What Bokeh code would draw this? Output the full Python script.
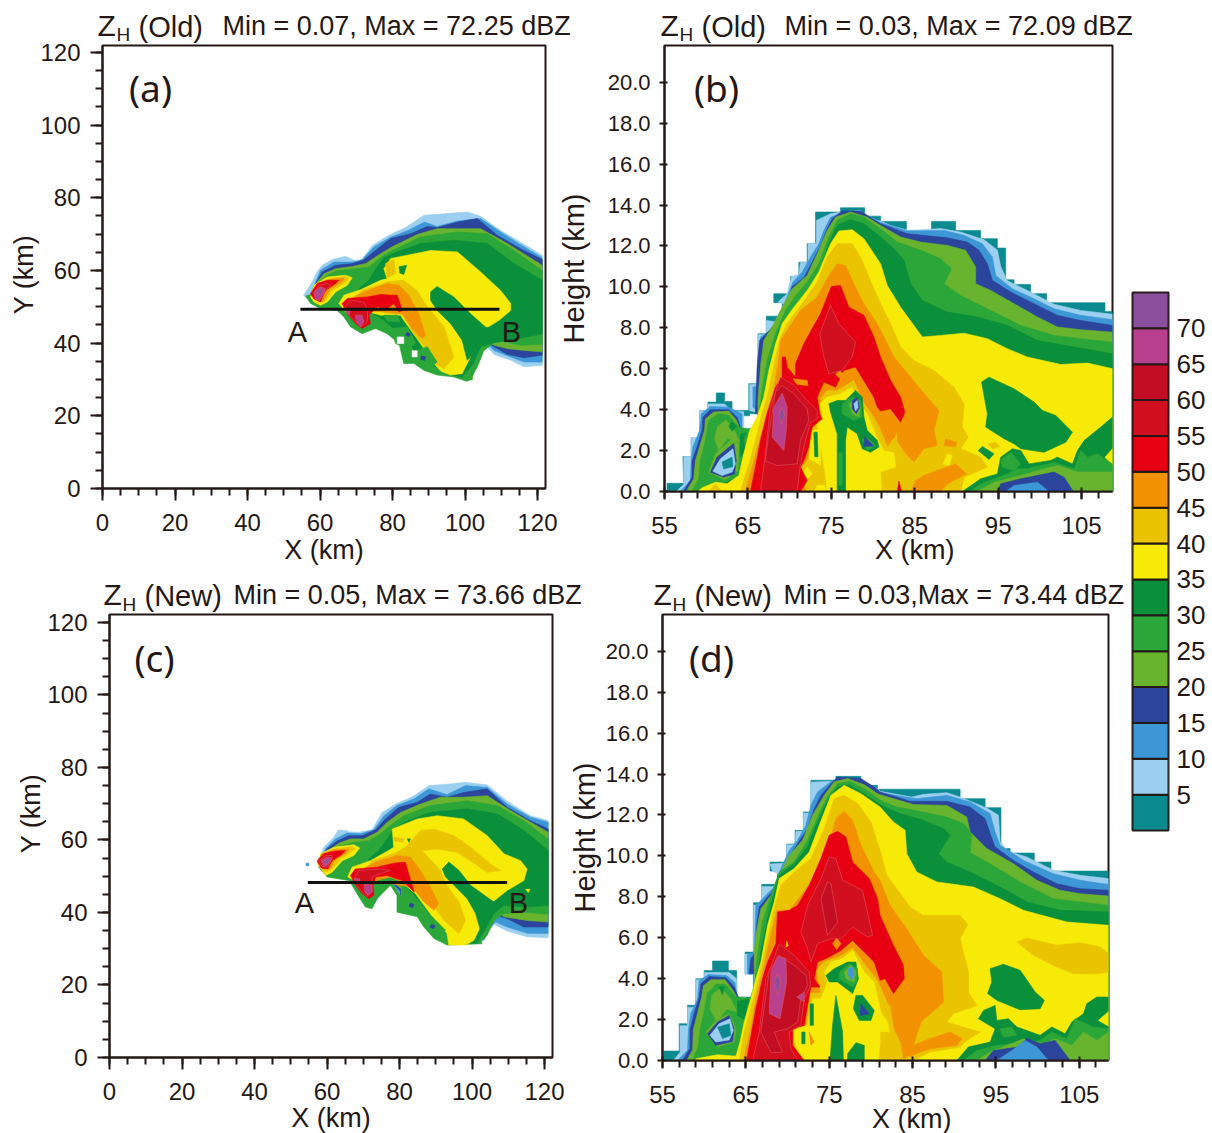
from bokeh.embed import file_html
from bokeh.resources import INLINE
from bokeh.plotting import figure
from bokeh.layouts import row, column
from bokeh.models import Range1d, FixedTicker, Label, Spacer, NumeralTickFormatter

# dBZ class colours
LEVELS = [0, 5, 10, 15, 20, 25, 30, 35, 40, 45, 50, 55, 60, 65, 70]
COLOR = {-1: "#FFFFFF", 0: "#0B8A8F", 5: "#9BCFEF", 10: "#3D97D6", 15: "#2B459C", 20: "#69B42F",
         25: "#2BA639", 30: "#0A8F3A", 35: "#F6EA06", 40: "#EAC400", 45: "#F39200", 50: "#E60012",
         55: "#D20F1E", 60: "#C30D23", 65: "#B9408F", 70: "#8B4F9E"}
CBAR_TICKS = [5, 10, 15, 20, 25, 30, 35, 40, 45, 50, 55, 60, 65, 70]

# ---------- panel (b): contour outlines, (X km, Height km) ----------
bc_00 = [(55.3,0),(55.3,0.4),(57.3,0.4),(57.2,1.71),(58.2,1.71),(58.2,2.62),(59.2,2.62),(59.2,3.96),(60.2,3.96),(60.2,4.37),(61.2,4.37),(61.2,4.82),(62.2,4.82),(62.2,4.4),(63.1,4.4),(63.1,3.96),(65.2,3.96),(65.2,3.7),(64.2,3.7),(64.2,3.07),(66.1,3.07),(66.1,0)]
bc_05 = [(56.4,0),(57.3,0.35),(57.3,1.71),(58.2,1.71),(58.2,2.62),(59.2,2.62),(59.2,3.96),(60.2,3.96),(60.2,4.28),(62.2,4.28),(63,3.96),(64.5,3.9),(64.5,3.1),(66,3.1),(66,0)]
bc_10 = [(56.9,0),(58.1,0.54),(58.2,1.5),(58.4,2.17),(59.2,2.98),(59.4,3.8),(60.5,4.16),(62.7,4.12),(64.3,3.8),(64.3,3.05),(66,3.05),(66,0)]
bc_15 = [(57.3,0),(58.3,0.7),(58.3,1.5),(58.9,2.17),(59.5,2.98),(59.6,3.63),(60.5,4.0),(62.7,4.0),(63.7,3.63),(64.2,3.0),(66,3.0),(66,0)]
bc_20 = [(57.6,0),(58.5,0.62),(58.7,1.5),(59.2,2.17),(59.8,3.0),(59.9,3.55),(60.9,3.88),(62.7,3.93),(63.6,3.5),(64.1,3.0),(66,3.0),(66,0)]
bc_25 = [(58.3,0),(59.1,0.62),(59.3,1.5),(59.9,2.5),(60.3,3.47),(61.5,3.8),(62.7,3.72),(63.9,3.15),(65.5,3.0),(66,0)]
bc_20i = [(61.4,3.2),(62.4,3.5),(63.5,2.9),(64,2.4),(62.6,2.6),(61.5,2.0),(61,2.6)]
bc_30a = [(62.7,3.2),(63.1,3.4),(63.6,3.2),(63.1,2.95)]
bc_30b = [(64.1,2.8),(65,2.9),(64.7,2.0),(64.1,1.7)]
bc_h20 = [(60.3,0.94),(61.1,1.84),(63.1,2.57),(63.9,2.33),(63.8,1.03),(62.3,0.57)]
bc_h15 = [(60.5,0.94),(61.3,1.68),(63.3,2.36),(63.6,1.52),(63.4,0.86),(62.1,0.7)]
bc_h05 = [(60.8,0.99),(61.7,1.6),(63.2,2.09),(63.5,1.35),(63.1,0.95),(61.9,0.78)]
bc_h00 = [(61.9,1.44),(63.1,1.68),(63.2,1.22),(62.1,1.1)]

b_00 = [(65.5,0),(66.2,3.1),(66.2,3.8),(65.1,3.8),(65.1,5.27),(66.2,5.27),(66.2,7.71),(67.2,7.71),(67.2,8.57),(69.1,8.57),(69.1,9.23),(68.1,9.23),(68.1,9.67),(70.1,9.67),(70.1,10.51),(71.1,10.51),(71.1,11.21),(72.1,11.21),(72.1,12.11),(73.1,12.11),(73.1,13.66),(76.1,13.66),(76.1,13.87),(79.0,13.87),(79.0,13.46),(80.9,13.46),(80.9,13.2),(84.0,13.2),(84.0,12.76),(87.0,12.76),(87.0,13.2),(89.9,13.2),(89.9,12.76),(92.9,12.76),(92.9,12.36),(94.9,12.36),(94.9,11.9),(95.9,11.9),(95.9,10.35),(96.9,10.35),(96.9,10.12),(98.9,10.12),(98.9,9.67),(100.8,9.67),(100.8,9.23),(107.8,9.23),(107.8,8.8),(108.7,8.8),(108.7,0)]
b_05 = [(66.3,0),(66.3,3.85),(65.2,3.95),(65.2,5.23),(66.2,5.23),(66.2,7.67),(67.2,7.67),(67.2,8.36),(68.3,8.3),(69.3,9.18),(68.6,9.26),(69.7,9.67),(70.2,10.51),(71.1,10.61),(71.3,11.21),(72.2,11.21),(72.2,12.11),(73.2,12.11),(73.2,13.25),(74.9,13.58),(76.1,13.66),(78.5,13.74),(79,13.5),(80.5,13.25),(80.9,13.22),(82.1,13.0),(84.3,12.76),(88.1,12.85),(90.5,12.68),(93.3,12.31),(94.9,11.8),(95.3,11.0),(96.1,10.3),(98.5,9.83),(101.7,9.15),(104.9,8.85),(108.7,8.66),(108.7,0)]
b_10 = [(66.4,0),(66.4,3.85),(65.6,4.12),(65.6,5.1),(66.3,5.18),(66.5,7.55),(67.4,7.79),(68.5,8.28),(69.6,9.42),(70.4,10.24),(71.5,10.73),(72.5,11.46),(73.5,12.11),(74.1,12.76),(74.9,13.4),(76.5,13.66),(78.5,13.66),(80.1,13.33),(80.9,13.15),(84.1,12.73),(88.5,12.76),(90.9,12.52),(93.1,12.11),(94.3,11.46),(94.7,10.56),(96.7,9.91),(98.9,9.5),(101.7,8.93),(104.9,8.61),(108.7,8.4),(108.7,0)]
b_15 = [(66.5,0),(66.5,3.8),(65.9,3.8),(66.1,6.08),(66.4,7.38),(67.5,7.84),(68.6,8.33),(69.9,9.42),(70.3,10.02),(71.7,10.45),(72.7,11.21),(73.7,12.03),(74.5,12.84),(75.1,13.33),(76.3,13.71),(78.5,13.71),(80.1,13.28),(80.9,13.09),(84.1,12.6),(88.9,12.4),(91.3,12.19),(92.7,11.79),(93.7,11.13),(94.3,10.32),(96.5,9.75),(99.3,9.18),(102.1,8.61),(104.9,8.36),(108.7,8.12),(108.7,0)]
b_20 = [(66.6,0),(66.6,3.1),(66.2,3.8),(66.2,4.45),(66.5,6.08),(66.9,7.38),(68.1,8.2),(69.1,9.01),(70.3,9.91),(72.1,10.56),(73.3,11.62),(74.5,12.76),(75.5,13.41),(77.3,13.66),(79.3,13.41),(80.9,13.0),(83.3,12.44),(85.7,12.19),(88.9,12.03),(91.1,11.79),(92.3,10.97),(92.3,10.16),(94.1,9.83),(96.9,9.18),(99.7,8.53),(102.1,8.04),(104.9,7.91),(108.7,7.79),(108.7,0)]
b_25 = [(66.7,0),(64.5,2.5),(65,3.05),(66.0,3.1),(66.3,3.8),(66.7,4.94),(67.3,6.41),(68.3,7.71),(69.5,8.85),(70.9,9.67),(72.1,10.24),(73.5,11.13),(74.7,12.44),(75.7,13.25),(77.3,13.58),(78.9,13.41),(80.9,12.84),(82.9,12.19),(85.7,11.79),(88.1,11.38),(89.4,10.89),(88.5,10.16),(90.5,9.58),(94.1,8.85),(97.7,8.12),(101.7,7.63),(104.9,7.47),(108.7,7.3),(108.7,0)]
b_30 = [(58.9,0),(59.3,0.1),(62.1,0.4),(63.8,0.7),(64.5,1.5),(65.3,2.82),(66.6,3.8),(67.1,4.94),(67.7,6.41),(68.7,7.87),(69.9,8.61),(71.1,9.34),(72.3,9.91),(73.7,10.81),(74.7,12.11),(75.7,13.01),(77.3,13.28),(78.9,13.09),(80.9,12.44),(82.5,11.87),(83.7,11.3),(84.5,10.16),(85.9,9.34),(88.9,8.77),(92.5,8.53),(96.1,8.12),(99.7,7.38),(104.1,7.06),(108.7,6.73),(108.7,0)]
b_35 = [(59.0,0),(59.5,0.18),(61.1,0.45),(62.5,0.38),(63.9,0.78),(64.5,1.84),(65.2,2.98),(66.1,3.64),(66.9,4.61),(67.5,5.92),(68.3,7.22),(69.1,8.2),(70.5,9.01),(72.1,9.83),(73.5,10.73),(74.9,12.11),(75.9,12.73),(77.5,12.8),(78.9,12.36),(80.1,11.62),(80.9,11.13),(81.7,10.07),(83.3,9.01),(85.9,7.55),(88.1,7.63),(90.9,7.74),(93.7,7.47),(96.1,6.98),(98.5,6.57),(102.5,6.21),(105.7,6.28),(108.7,6.0),(108.7,0)]
b_40 = [(64.1,0),(65,1.2),(65.9,2.5),(66.7,3.8),(67.5,4.94),(68.3,6.57),(68.9,7.55),(69.7,8.2),(71.5,9.18),(73.3,10.24),(74.5,11.46),(75.7,12.11),(77.5,12.11),(78.5,11.46),(79.5,10.49),(80.9,9.18),(82.1,8.2),(83.3,7.06),(84.9,6.4),(87.3,5.92),(89.7,5.1),(90.9,4.29),(90.7,3.15),(91.4,2.66),(90.5,2.09),(92.9,1.68),(93.7,1.19),(90.9,0.7),(90.5,0)]
b_40s = [(60.3,0),(61.1,0.35),(61.9,0)]
b_45 = [(64.7,0),(65.5,1.2),(66.4,2.5),(67.2,3.8),(68.1,4.94),(68.7,6.57),(68.9,7.38),(71.3,8.85),(73.3,9.5),(74.7,10.56),(75.7,11.13),(76.7,11.05),(77.7,10.16),(78.9,9.18),(80.5,8.2),(80.9,7.87),(82.5,6.57),(84.5,5.59),(86.5,4.61),(87.9,3.96),(87.3,2.98),(87.7,2.25),(86.1,2.09),(84.9,1.44),(83.9,1.84),(82.9,2.5),(82.9,3.0),(81.5,1.5),(80,0)]
b_40low = [(72,0),(71.5,1.2),(72.7,1.84),(72.9,3.15),(74.1,3.8),(73.7,4.53),(74.5,4.94),(75.7,4.94),(77.7,5.43),(78.7,4.45),(80.1,3.64),(81.1,2.82),(81.7,2.17),(82.5,2.6),(82.7,1.9),(84.9,1.3),(85.3,0.6),(84.5,0)]
b_45low = [(85.1,0.53),(86.1,0.78),(87.7,1.03),(89.9,1.35),(91.2,0.87),(88.9,0.37),(88.1,0),(84.5,0)]
b_35low = [(73.6,4.29),(74.5,4.61),(76.1,4.78),(77.5,5.1),(78.3,4.3),(79.3,3.8),(80.5,2.6),(81.3,2.0),(82.5,1.9),(82.7,1.2),(80.9,0.95),(81,0),(74.5,0),(74.3,0.8),(73.5,2.8),(73.3,3.4),(73.9,3.6)]
b_35bar = [(72.5,3.0),(73.7,3.0),(73.7,1.3),(72.3,1.6)]
b_35spot = [(71.5,0.87),(72.1,1.2),(72.7,0.87),(72.1,0.62)]
b_35base = [(72.9,0),(73.3,0.3),(74.2,0.3),(74.3,0)]
b_35dot = [(88.4,1.35),(88.9,1.84),(89.5,1.76),(89.1,1.27)]
b_45dot = [(88.7,2.58),(90,2.41),(89.9,2.17),(88.5,2.25)]
b_40dot = [(93.8,2.33),(94.7,2.41),(95.2,2.2),(94.3,2.09)]
b_50 = [(65.3,0),(65.9,1.2),(66.5,2.5),(67.3,3.8),(68.3,5.1),(69.1,5.59),(69.1,6.57),(69.5,6.57),(69.7,6.08),(70.7,5.59),(70.7,6.24),(71.7,7.22),(73.7,8.69),(75,10.02),(76.1,10.07),(77.1,9.01),(78.9,8.61),(80.1,7.55),(80.9,6.57),(82.1,5.43),(83.3,4.61),(83.8,3.88),(83.3,3.39),(82.1,4.04),(80.9,3.93),(80.5,4.12),(80.1,4.61),(77.9,6.08),(76.5,5.92),(75.5,5.1),(74.1,5.35),(73.3,4.61),(73.6,3.8),(73.9,3.55),(72.7,3.15),(72.3,2.17),(71.7,1.5),(71.3,1.2),(72.1,0.54),(71.3,0)]
b_50spike = [(82.9,0),(83.1,0.5),(83.4,0)]
b_45bar = [(70.4,5.51),(72.1,5.43),(72.2,5.18),(70.9,5.23)]
b_45spot = [(75.9,5.92),(76.6,5.72),(76.1,5.51),(75.5,5.72)]
b_55up = [(74.9,9.1),(75.9,8.2),(77.9,7.3),(77.5,6.57),(76.3,5.92),(74.7,5.75),(74.1,6.57),(73.6,7.71)]
b_55lo = [(66.5,0),(67,1.5),(67.7,4.12),(68.9,5.59),(70.5,5.2),(72.1,4.45),(73.3,3.97),(73.3,3.55),(72.5,3.39),(71.9,2.5),(71.3,1.35),(70.9,0)]
b_60 = [(67.1,1.5),(67.5,2.82),(67.9,3.8),(68.3,4.86),(69.1,5.18),(70.5,4.78),(72.1,4.04),(72.3,3.47),(71.3,2.5),(70.9,1.35),(68.5,1.27)]
b_65 = [(69.1,4.81),(69.7,4.12),(69.6,2.98),(69.3,2.0),(67.9,2.66),(68.1,4.12)]
b_70 = [(69,4.12),(69.4,3.8),(69,3.31),(68.7,3.72)]
b_g30bar = [(72.9,2.9),(73.3,2.9),(73.4,1.7),(73,1.7)]
b_x30 = [(75.7,0),(75.7,2.82),(74.9,3.88),(74.7,4.29),(75.7,4.45),(76.7,4.45),(77.9,4.94),(78.7,4.61),(78.9,3.64),(79.3,2.98),(80.5,2.5),(80.7,2.17),(79.7,1.92),(78.7,2.09),(78.1,2.82),(76.9,3.15),(76.7,2.5),(76.7,0)]
b_x25 = [(76.3,4.29),(77.5,4.61),(78.5,4.45),(78.7,3.64),(77.7,3.47),(76.3,3.8)]
b_x20 = [(77.1,4.29),(78.1,4.61),(78.5,4.12),(78.3,3.64),(77.5,3.8)]
b_x15 = [(77.5,4.45),(78.1,4.61),(78.4,4.12),(78,3.8),(77.5,4.05)]
b_x05 = [(77.7,4.29),(78.1,4.45),(78.2,4.12),(77.9,3.93)]
b_y25 = [(78.7,2.57),(79.5,2.57),(80.3,2.25),(79.3,2.0)]
b_y15 = [(79,2.66),(80.1,2.22),(78.9,2.2)]
b_stem = [(75.9,0.3),(76.3,0.3),(76.3,1.9),(75.9,1.9)]
b_isl30 = [(93,5.35),(93.9,5.59),(96.9,5.02),(99.3,4.37),(100.3,3.96),(101.9,3.72),(103.9,2.9),(103.1,2.41),(100.5,1.92),(97.7,2.09),(96.9,2.33),(95.7,2.58),(93.5,3.15),(93.7,3.8)]
b_isl30b = [(92.6,2.0),(93.1,2.2),(94.5,1.84),(93.9,1.56)]
b_low30 = [(90.7,0),(92.9,0.62),(94.9,0.86),(95.3,1.68),(96.7,2.09),(97.7,2.0),(98.7,1.35),(101.3,1.52),(102.1,1.68),(103.9,1.35),(104.5,2.0),(105.3,2.49),(107.3,3.15),(108.7,3.64),(108.7,0)]
b_low35 = [(107.8,1.68),(108.7,2.09),(108.7,1.27)]
b_low25 = [(91.7,0),(92.9,0.38),(96.1,0.86),(97.3,1.11),(98.5,1.11),(101.7,1.43),(104.1,1.11),(104.9,2.0),(105.7,1.68),(106.9,1.84),(108.7,1.35),(108.7,0)]
b_low25b = [(95.3,1.52),(96.5,1.92),(97.7,1.35),(96.9,1.03),(95.5,1.19)]
b_low20 = [(92.5,0),(94.5,0.45),(97.7,0.78),(102.1,1.27),(104.5,0.95),(108.7,0.95),(108.7,0)]
b_low15 = [(94.9,0),(95.3,0.38),(97.7,0.62),(101.7,0.95),(102.9,0.7),(104,0)]
b_low10 = [(95.9,0),(96.9,0.29),(99.7,0.45),(101.1,0)]

panel_b = [(0,bc_00),(5,bc_05),(10,bc_10),(15,bc_15),(20,bc_20),(25,bc_25),(20,bc_20i),(30,bc_30a),(30,bc_30b),(20,bc_h20),(15,bc_h15),(5,bc_h05),(0,bc_h00),
           (0,b_00),(5,b_05),(10,b_10),(15,b_15),(20,b_20),(25,b_25),(30,b_30),(35,b_35),(40,b_40),(40,b_40s),(45,b_45),(40,b_40low),(45,b_45low),(35,b_35low),(35,b_35bar),(35,b_35spot),(35,b_35base),(35,b_35dot),(45,b_45dot),(40,b_40dot),
           (50,b_50),(50,b_50spike),(45,b_45bar),(45,b_45spot),(55,b_55up),(55,b_55lo),(60,b_60),(65,b_65),(70,b_70),(30,b_g30bar),(30,b_x30),(25,b_x25),(20,b_x20),(15,b_x15),(5,b_x05),(25,b_y25),(15,b_y15),(25,b_stem),
           (30,b_isl30),(30,b_isl30b),(30,b_low30),(35,b_low35),(25,b_low25),(25,b_low25b),(20,b_low20),(15,b_low15),(10,b_low10)]

# ---------- panel (d) ----------
dc_00 = [(55.1,0),(55.1,0.46),(57,0.46),(57,1.8),(58,1.8),(58,2.7),(59,2.7),(59,4),(60,4),(60,4.4),(61,4.4),(61,4.86),(62.9,4.86),(62.9,4.4),(63.9,4.4),(63.9,3.1),(65.8,3.1),(65.8,0)]
dc_05 = [(56.3,0),(57.1,0.4),(57.1,1.7),(58,1.7),(58,2.6),(59,2.6),(59,3.95),(60,3.95),(60,4.3),(61,4.3),(63,4.3),(63.9,4.0),(63.9,3.1),(65,3.1),(66,0)]
dc_10 = [(56.8,0),(58,0.5),(58.1,1.5),(58.4,2.3),(59.2,3.0),(59.4,3.9),(60.5,4.2),(62.7,4.15),(63.7,3.8),(63.9,3.1),(65,3.0),(66,0)]
dc_15 = [(57.4,0),(58.3,0.6),(58.3,1.5),(58.8,2.3),(59.4,3.1),(59.6,3.75),(60.6,4.1),(62.6,4.05),(63.6,3.6),(64.2,3),(65,3),(66,0)]
dc_20 = [(57.9,0),(58.6,0.5),(58.7,1.5),(59.2,2.3),(59.7,3.1),(59.9,3.65),(60.8,3.95),(62.5,3.95),(63.5,3.4),(64.2,2.9),(65.8,3.1),(66,0)]
dc_25 = [(58.6,0),(59.3,0.7),(59.5,1.5),(60,2.4),(60.4,3.3),(61.5,3.75),(62.6,3.7),(63.8,3.1),(65.4,3.05),(66,0)]
dc_20i = [(60.9,3.2),(62,3.55),(63.2,3.0),(63.9,2.4),(62.7,2.5),(61.5,1.9),(60.7,2.5)]
dc_30a = [(61.8,3.6),(62.4,3.6),(62.2,3.2)]
dc_30b = [(64,2.9),(65.4,3.0),(64.8,2.0),(64,2.2)]
dc_h20 = [(60.2,1.39),(61.4,1.96),(63,2.29),(63.8,1.55),(63.6,0.9),(61.6,0.66)]
dc_h15 = [(60.4,1.31),(61.6,1.88),(63,2.2),(63.6,1.55),(63.4,0.93),(61.4,0.74)]
dc_h05 = [(60.7,1.23),(61.8,1.8),(63.1,2.04),(63.5,1.47),(63,1),(61.4,0.9)]
dc_h00 = [(61.6,1.63),(63,1.8),(63.2,1.23),(62.2,1.07)]

d_00 = [(65,0),(65.9,3.1),(65.9,4.24),(64.9,4.24),(64.9,5.3),(65.9,5.3),(65.9,7.71),(66.9,7.71),(66.9,8.61),(68.8,8.61),(68.8,9.26),(67.9,9.26),(67.9,9.7),(69.9,9.7),(69.9,10.58),(70.9,10.58),(70.9,11.25),(71.9,11.25),(71.9,12.15),(72.8,12.15),(72.8,13.7),(75.8,13.7),(75.8,13.89),(78.8,13.89),(78.8,13.45),(80.8,13.45),(80.8,13.26),(90.7,13.26),(90.7,12.8),(93.7,12.8),(93.7,12.36),(95.6,12.36),(95.6,10.36),(96.7,10.36),(96.7,10.14),(99.6,10.14),(99.6,9.7),(101.6,9.7),(101.6,9.26),(108.5,9.26),(108.5,0)]
d_05 = [(66,0),(66,4.2),(64.9,4.2),(64.9,5.2),(65.9,5.2),(65.9,7.6),(66.9,7.6),(66.9,8.5),(68.5,8.5),(69.1,9.1),(68.2,9.25),(67.9,9.6),(69.9,9.65),(69.9,10.55),(70.9,10.55),(71,11.2),(71.9,11.2),(71.9,12.1),(72.8,12.1),(72.8,13.6),(74.8,13.65),(75.8,13.6),(78.8,13.6),(80.8,13.3),(81.1,13.16),(82.7,13.04),(84.9,12.88),(86.3,13.01),(89.1,13.09),(90.7,12.88),(93.9,12.34),(95.3,11.99),(95.5,10.68),(96.5,10.22),(98.7,9.95),(101.9,9.3),(105.1,9.05),(108.5,8.89),(108.5,0)]
d_10 = [(66.1,0),(66.1,4.24),(65.2,4.24),(65.2,5.17),(66,5.3),(66.2,7.58),(67.2,7.99),(68.4,8.48),(69.2,9.38),(70.2,10.27),(71.2,10.76),(72.2,11.5),(72.8,12.47),(73.6,13.13),(75.2,13.62),(78.8,13.7),(80.8,13.26),(81.1,13.09),(83.5,12.93),(85.5,12.8),(89.1,12.96),(91.9,12.64),(94.3,12.07),(94.9,11.17),(95.5,10.52),(98.3,9.78),(101.9,9.13),(105.1,8.81),(108.5,8.6),(108.5,0)]
d_15 = [(66.2,0),(66.2,4.24),(65.4,4.24),(65.6,4.98),(66.2,5.3),(66.3,6.6),(66.6,7.5),(67.6,7.99),(68.6,8.48),(70,9.78),(71.2,10.6),(72.4,11.33),(73.2,12.31),(74,12.96),(75.2,13.53),(76,13.86),(78.8,13.78),(80.4,13.37),(81.1,13.13),(84.7,12.67),(89.1,12.67),(91.9,12.39),(93.7,11.82),(94.3,11.09),(94.9,10.44),(97.1,9.78),(99.5,9.21),(102.3,8.64),(105.1,8.4),(108.5,8.32),(108.5,0)]
d_20 = [(66.3,0),(66.3,3.6),(66,4.24),(66,5.47),(66.4,6.6),(66.8,7.42),(68,8.07),(68.8,8.89),(70.2,10.03),(71.8,10.76),(73,11.99),(74.4,12.96),(75.6,13.62),(77.2,13.78),(79.2,13.48),(80.8,13.04),(81.1,12.99),(85.1,12.51),(89.1,12.47),(91.5,11.9),(91.9,11.17),(93.9,10.36),(97.1,9.62),(99.9,8.81),(102.7,8.32),(105.1,8.15),(108.5,8.04),(108.5,0)]
d_25 = [(66.4,0),(65.2,2.6),(66,3.67),(66.4,5.14),(67,6.77),(68,8.07),(69,9.21),(70.8,9.7),(72.4,10.76),(73.6,11.9),(74.8,12.88),(76,13.53),(77.4,13.65),(79.2,13.29),(81.1,12.72),(83.1,12.39),(86.3,12.15),(89.1,11.9),(91.1,11.58),(92.1,11.09),(91.9,10.16),(94.3,9.62),(97.9,8.72),(101.9,7.91),(105.1,7.75),(108.5,7.58),(108.5,0)]
d_30 = [(66.5,0),(65.4,2.4),(66.4,4),(66.8,5.3),(67.6,6.93),(68.2,7.91),(69,9.05),(70.8,9.62),(72.4,10.44),(73.6,11.66),(74.8,12.72),(76,13.37),(77.4,13.48),(79.2,13.04),(81.1,12.5),(83.5,12.07),(86.3,11.74),(88.7,11.33),(89.5,11.01),(88.1,10.11),(89.1,9.7),(92.3,9.13),(95.5,8.48),(98.7,7.75),(102.7,7.34),(108.5,7.26),(108.5,0)]
d_35 = [(58.9,0),(59,0.08),(61.6,0.28),(63.8,0.21),(64.3,0.9),(64.8,1.88),(65.6,3.02),(66.2,4),(66.8,4.81),(67.6,6.61),(68.4,7.75),(69,8.89),(70.8,9.38),(72.6,10.19),(73.8,11.5),(75.2,12.96),(76.8,13.45),(78.8,13.04),(81.1,12.39),(82.7,11.66),(84.1,11.25),(84.3,10.11),(85.5,9.21),(87.9,8.73),(92.3,8.48),(95.5,7.91),(98.3,7.34),(103.5,6.77),(108.5,6.61),(108.5,0)]
d_40 = [(64.2,0),(64.8,1.39),(65.9,3.02),(66.7,4.32),(67.6,5.95),(68.4,7.42),(69.2,8.56),(70.8,9.21),(72.8,9.87),(74.4,11.33),(75.6,12.8),(76.8,12.96),(78.4,12.56),(80,11.66),(81.1,10.27),(81.9,9.05),(83.1,8.4),(84.7,7.5),(86.3,7.09),(90.7,7.09),(91.6,6.64),(90.7,5.95),(91.7,4.32),(91.7,3.34),(92.7,2.69),(89.9,2.29),(89.1,1.88),(93.1,1.39),(91.5,0.98),(90.7,0.66),(87.1,0.41),(85.1,0)]
d_40r = [(97.5,5.79),(98.7,5.99),(102.3,5.63),(105.1,5.76),(107.5,5.55),(108.5,5.22),(108.5,4.32),(107.1,4.24),(104.3,4.24),(101.9,4.65),(99.5,5.14)]
d_45 = [(64.7,0),(65.5,1.39),(66.2,3.02),(67,4.32),(67.9,5.95),(68.7,7.34),(70.2,7.34),(71.6,8.07),(73.6,9.21),(75,10.68),(75.8,11.82),(76.8,12.18),(77.8,11.74),(78.8,10.52),(80.4,9.21),(81.1,8.81),(82.3,7.58),(84.3,6.44),(86.3,5.14),(88.5,4.32),(88.7,2.85),(86,1.88),(85.1,0.74),(87.1,1.07),(89.5,1.39),(90.9,1.07),(90.3,0.74),(87.1,0.57),(84.3,0.17),(83.5,0)]
d_40low = [(71.5,0),(70.8,0.74),(70.8,1.4),(72.2,1.55),(72.7,3.3),(74,3.3),(73.5,4.4),(74.3,4.8),(76.4,5.1),(77.8,5.5),(80.8,3.9),(82.1,2.7),(82.3,2.69),(82.7,1.55),(83.5,0.9),(83.9,0)]
d_35low = [(71.6,0),(70.8,0.97),(70.8,1.5),(72.4,1.72),(73,3.02),(74,3.02),(74.8,3.84),(74.4,4.32),(75.2,4.81),(76.6,4.98),(77.8,5.38),(79.2,4.32),(80.4,3.84),(81.2,2.37),(82,1.88),(82.2,1.39),(81.1,1.4),(81.1,0.9),(80.9,0)]
d_50 = [(65.1,0),(65.4,0.74),(66.2,2.53),(67,4),(67.6,4.81),(68.6,5.71),(68.8,7.26),(70.2,7.34),(71.2,7.58),(72.6,8.56),(74,9.87),(75,11.01),(76,11.2),(77,10.93),(77.8,9.7),(79.8,8.89),(80.8,7.91),(81.1,7.09),(82.7,5.63),(83.9,4.65),(84,4),(82.7,3.27),(81.7,4),(81.1,3.92),(80.4,4.81),(77.8,5.87),(76.4,5.38),(75,5.06),(73.6,4.81),(73.2,4),(73.9,3.59),(72.8,3.59),(72.4,2.69),(72,1.72),(70.6,1.55),(70.6,0.74),(72,0)]
d_45spot = [(75.9,5.99),(76.4,5.71),(75.9,5.43),(75.4,5.71)]
d_40spot = [(69.9,5.84),(70.1,5.6),(69.8,5.55)]
d_45b = [(72.6,1.39),(73.2,0.9),(72.8,0.74)]
d_35halo = [(71.4,1.6),(72.4,1.6),(72.4,0.6),(71.4,0.6)]
d_55up = [(75,9.95),(75.8,9.87),(76.6,8.81),(79,8.32),(80.2,6.12),(79.6,6.04),(77.8,6.52),(76.4,5.95),(75.2,5.95),(73.6,5.71),(72.8,4.81),(72.4,5.47),(71.6,6.28),(72.4,7.58),(74,8.89)]
d_55lo = [(65.8,0),(66.6,1.39),(67.4,4),(68.2,4.81),(69,5.71),(70.8,5.14),(72.6,4.32),(72.8,3.67),(72,3.02),(71.6,1.72),(70.2,1.39),(70.4,0.57),(71.2,0)]
d_60up = [(74.8,8.73),(75.2,8.64),(76,6.77),(74.8,6.12),(74,7.91)]
d_60lo = [(66.8,1.39),(67.8,4.32),(69,5.14),(70.8,4.65),(72.2,4.16),(72.4,3.67),(71.6,3.02),(71.2,1.88),(70,1.55),(68.4,1.39),(69.4,0.4),(68,0.4)]
d_65 = [(68.8,5.11),(69.8,4.98),(69.9,3.84),(69.1,2.04),(67.8,2.29),(68,4.32)]
d_70 = [(68.8,4.24),(69.2,3.84),(68.8,3.18),(68.4,3.84)]
d_65b = [(71.1,3.1),(72,3.34),(72,2.86)]
d_bar1 = [(72.7,2.77),(73.1,2.77),(73.1,1.72),(72.7,1.72)]
d_bar2 = [(71.7,1.39),(72.1,1.39),(72.1,0.82),(71.7,0.82)]
d_spike = [(75.8,3.18),(76.6,1.39),(76.7,0),(75.1,0),(75.4,1.72)]
d_x30 = [(74.6,4.16),(75.6,4.49),(77.2,4.81),(78.2,4.81),(78.5,4),(77.8,3.27),(76,3.84),(75,3.84)]
d_x25 = [(76.2,4.32),(77.4,4.73),(78.4,4.49),(78.3,3.84),(77.8,3.59),(76.2,3.99)]
d_x20 = [(76.8,4.32),(77.6,4.65),(78.2,4.32),(78,3.84),(77,3.99)]
d_x10 = [(77.3,4.49),(77.8,4.57),(78,4.24),(77.7,3.92),(77.3,4.16)]
d_y30 = [(78.2,3.18),(79,3.18),(80.4,2.45),(80,1.96),(78.6,1.96),(77.9,2.53)]
d_y15 = [(78.8,2.77),(79.8,2.29),(78.7,2.2)]
d_blob = [(77.2,0.33),(78.2,0.87),(79.2,0.74),(79.2,0),(77.2,0)]
d_isl30 = [(94.3,4.49),(95.9,4.7),(97.9,4.41),(99.7,3.35),(100.8,2.94),(100.3,2.53),(97.9,2.48),(95.1,2.94),(94,3.27),(94.5,3.84)]
d_low30 = [(90.3,0),(91.7,0.66),(94.3,0.9),(94.9,1.55),(92.9,2.04),(93.5,2.45),(94.9,2.69),(95.1,1.96),(96.5,2.04),(97.5,1.64),(100.3,1.23),(101.7,1.64),(103.3,1.31),(104.1,1.88),(105.5,2.29),(105.9,2.78),(107.1,3.1),(108.5,3.1),(108.5,0)]
d_low35 = [(107.3,1.96),(108.5,2.4),(108.5,1.68)]
d_low25 = [(91.1,0),(92.7,0.49),(95.1,0.74),(100.3,0.98),(101.7,1.39),(103.5,1.06),(104.5,2.04),(106.7,1.64),(108.5,1.55),(108.5,0)]
d_low25b = [(95.5,1.55),(96.9,1.64),(97.5,1.23),(95.9,1.15)]
d_low20 = [(92.7,0),(94.3,0.41),(98.3,1.06),(100.7,0.82),(102.1,1.06),(104.1,0.74),(105.5,1.39),(107.1,0.98),(108.5,1.39),(108.5,0)]
d_low15 = [(93.7,0),(94.7,0.49),(97.7,0.66),(98.7,1.09),(100.3,0.82),(102.1,0.98),(103.9,0)]
d_low10 = [(95.1,0),(96.9,0.49),(98.5,0.98),(99.9,0.66),(101.3,0)]

panel_d = [(0,dc_00),(5,dc_05),(10,dc_10),(15,dc_15),(20,dc_20),(25,dc_25),(20,dc_20i),(30,dc_30a),(30,dc_30b),(20,dc_h20),(15,dc_h15),(5,dc_h05),(0,dc_h00),
           (0,d_00),(5,d_05),(10,d_10),(15,d_15),(20,d_20),(25,d_25),(30,d_30),(35,d_35),(40,d_40),(40,d_40r),(45,d_45),(40,d_40low),(35,d_35low),
           (50,d_50),(45,d_45spot),(40,d_40spot),(45,d_45b),(35,d_35halo),(55,d_55up),(55,d_55lo),(60,d_60up),(60,d_60lo),(65,d_65),(70,d_70),(65,d_65b),(30,d_bar1),(30,d_bar2),(30,d_spike),(30,d_x30),(25,d_x25),(20,d_x20),(10,d_x10),(30,d_y30),(15,d_y15),(30,d_blob),
           (30,d_isl30),(30,d_low30),(35,d_low35),(25,d_low25),(25,d_low25b),(20,d_low20),(15,d_low15),(10,d_low10)]

# ---------- panel (a), (X km, Y km) ----------
a_05 = [(55.5,53.2),(57.8,56.8),(59.2,59.6),(60.6,61.4),(63.4,63),(67,63.9),(71,62.1),(74.4,66.9),(79,69.7),(83.6,71.8),(88.7,75.2),(93.3,75.5),(100.6,76.1),(104.3,74.9),(109.8,71),(115.3,67.8),(121.3,64.2),(121.3,33.9),(116.3,33.5),(112.6,35.3),(108,36.9),(105.4,39.7),(103.6,36.2),(102.2,30.9),(100.4,29.8),(96.9,31.2),(92.3,31.6),(88.7,33),(86.4,35.3),(83.3,35.3),(81.8,40.3),(78.5,43.1),(75.3,44.5),(71.6,43.1),(68.9,44.6),(67,47.4),(64.7,49.5),(60.1,50),(57.4,51.3)]
a_10 = [(57.4,53.6),(58.8,56.8),(60.1,60),(63.8,62.3),(68.9,62.3),(71.6,63),(74.9,66.5),(79.5,69.2),(84.1,70.9),(88.8,73.3),(92.3,72.1),(97.9,73.6),(104.3,74.3),(109.8,70.6),(115.3,67.1),(121.3,63.5),(121.3,34.8),(116.3,34.8),(112.6,36.2),(108,38),(105.7,40.3),(103.8,36.2),(102.3,31.6),(100.4,30.7),(96.9,31.6),(92.3,32.1),(88.7,33.4),(86.4,35.7),(83.6,36.2),(82,40.8),(78.5,43.5),(75.3,44.9),(71.6,43.5),(69.2,45.2),(67.5,47.7),(64.7,49.8),(60.1,50.1)]
a_15 = [(59,56.8),(60.6,59.6),(64.3,61.4),(68.9,61.9),(71.9,62.8),(75.3,65.5),(79.5,68.8),(85,70.1),(89.6,72.1),(92.3,71.8),(97.9,73.3),(103.4,74.3),(108.9,69.7),(115.3,66),(121.3,63),(121.3,36.7),(116.3,36),(111.7,36.9),(108,39),(105.7,40.6),(103.8,36.7),(102.3,32.1),(100.4,31.2),(96.9,32.1),(92.3,32.5),(88.7,33.9),(86.4,36.2),(83.6,36.7),(82,41.2),(78.5,44),(75.3,45.4),(71.6,44),(69.3,45.6),(67.5,48.1),(64.7,50.1),(60.1,50.4),(58.3,52.7)]
a_20 = [(58.3,53.6),(59.2,56.8),(61.1,59.1),(64.3,60.5),(68.9,61.1),(72.6,61.9),(76.7,64.6),(79.9,66.5),(86.8,69.9),(92.3,71.5),(97.9,71.5),(104.3,71.5),(111.7,67.4),(121.3,61.4),(121.3,37.6),(116.3,38),(111.7,38.5),(108,39.4),(105.9,40.8),(104,37.1),(102.5,32.5),(102,29.9),(100.4,30.3),(96.9,32.3),(92.3,33),(88.7,34.4),(86.4,36.7),(83.9,37.1),(82.2,41.7),(78.5,44.5),(75.3,45.8),(71.9,44.5),(69.5,46.3),(67.7,48.6),(64.7,50.4),(60.1,50.7)]
a_rim = [(102,30),(100.4,29.5),(96.9,30.7),(92.3,31.2),(88.7,32.5),(85.9,34.4),(83.1,34.4),(81.8,39.9),(78.5,42.6),(75.3,44),(71.6,42.6),(68.4,44.5),(66.6,47.2),(64.7,49),(60.1,49.5),(57.4,50.9),(56,53),(58.3,53.6),(60,52),(70,50),(78.5,47),(84,41),(92.3,36),(101,33)]
a_25 = [(58.8,54.1),(59.7,56.8),(62,58.7),(64.7,59.9),(69.8,60.5),(73.5,61),(77.6,64.2),(80.4,65.7),(87.7,69.2),(97.9,70.6),(106.1,70.1),(113.5,65.5),(121.3,60),(121.3,39.7),(115.3,39.4),(108.9,40.8),(105.2,37.9),(103.4,33.4),(101.5,30.2),(96.9,31),(92.3,33.4),(88.7,34.8),(86.4,37.1),(84.1,37.8),(82.4,42.2),(78.5,44.9),(75.3,46.3),(72.1,45.2),(69.8,47),(67.9,49),(64.7,50.7),(60.1,51)]
a_30 = [(77.6,63.5),(81.3,65.1),(87.7,67.4),(96.9,68.3),(106.1,67.4),(113.5,61.9),(121.3,57.3),(121.3,42.6),(113.5,41),(108,40.1),(104.3,39),(102.3,34.4),(99.2,30.7),(96,31.2),(90.5,34.4),(86.8,36.2),(85.4,39),(81.3,43.1),(77.6,46.3),(74.9,48.1),(72.1,49.5),(70.7,55),(73.5,57.3),(75.8,61)]
a_35 = [(65.2,50.9),(66.6,53.2),(71.2,54.7),(76.7,57.3),(78.5,57.7),(77.6,60.5),(79.5,63.3),(84.1,64.2),(90.5,65.5),(97.9,65.1),(104.3,59.6),(109.8,54.5),(112.6,50.9),(112.6,49),(109.4,46.3),(105.7,44),(103.4,39.9),(100.6,34.4),(99.2,31.6),(96,31.2),(93.3,32.3),(91.4,34.4),(87.7,39.9),(83.1,46.3),(82.2,47.7),(76.7,47.7),(72.1,49),(67.5,48.1)]
a_tongue = [(90.5,54.1),(92.3,55.6),(96.9,52.7),(101.5,48.1),(105.7,44.4),(108,44),(104.3,39),(100.6,35.3),(99.2,40.8),(96,45.4),(92.3,49),(90.5,51.8)]
a_40 = [(72.1,54.7),(78.5,56.8),(83.1,57.3),(86.8,54.4),(89.6,50),(94.2,44.5),(96,39),(96.9,36.2),(94.2,33),(92.3,33.9),(89.6,38),(85.9,42.6),(82.7,47.7),(76.7,48.6),(68.9,48.6),(67,51.3)]
a_40t = [(78.1,61.9),(80.4,63),(80.8,59.1),(78.5,58)]
a_30s = [(81.8,61),(83.9,61.4),(83.1,58.9),(82,59.3)]
a_45 = [(68,51.8),(72.1,54.1),(78.5,56.4),(81.8,55.9),(84.5,53.2),(87.3,48.1),(89.1,42.2),(88.2,41.2),(85.4,44),(82.7,48.1),(67.5,49.5)]
a_50 = [(66.1,50.9),(67.5,52.3),(73,52.7),(76.7,53.4),(79.5,53.2),(81.3,53.2),(82.7,49),(81.8,48.6),(80.4,50.9),(78.5,49.5),(75.8,50),(73.5,47.7),(73.9,45.4),(71.6,44),(69.8,45.4),(67.5,48.1)]
a_55 = [(67,50),(68.4,51.8),(72.1,51.3),(73.2,49),(73,45.8),(71.2,44.4),(69.8,45.8),(68,47.7)]
a_65 = [(69.8,47.7),(71.6,47.7),(72.1,45.8),(71.2,44.6),(70.1,45.8)]
a_65b = [(67,49),(68.4,49),(68,47.7)]
ac_35 = [(57.4,52.7),(58.3,55.9),(62,58.2),(67,58.7),(68.9,58),(67.5,55.9),(64.3,54.1),(62,51.3),(60.1,50.4),(58.3,51.3)]
ac_40 = [(57.8,53.2),(59.2,56.4),(62.4,57.7),(67,58.4),(68,57.7),(66.6,56.4),(63.4,54.5),(61.1,51.3),(58.8,51.8)]
ac_45 = [(57.6,53.2),(59.4,56.4),(62.9,57.5),(66.6,58),(66.1,56.8),(62.9,55),(60.6,51.3),(58.8,52.2)]
ac_50 = [(57.4,53.6),(59.2,56.4),(62,57.3),(65.2,57.3),(64.3,56.4),(61.5,54.5),(60.1,51.3),(58.3,52.2)]
ac_55 = [(58.3,53.6),(59.7,55.9),(62,56.4),(62.9,55.9),(60.9,53.6),(60,51.8),(58.8,52.2)]
ac_65 = [(58.3,54.1),(60,55.5),(61.5,55),(60.9,53.2),(59.7,51.8),(58.8,52.2)]
ac_70 = [(59,54.1),(60.1,55),(60.9,54.4),(60.1,53.2)]
a_p1 = [(77.6,47.7),(81.3,47.7),(82,45.8),(78.5,46.1)]
a_p2 = [(79.9,44),(84.1,44.5),(86.4,39.9),(84.1,38.5),(80.8,39.9)]
a_p3 = [(86.4,38),(89.6,39),(92.3,34.8),(89.6,32.5),(86.8,33.9)]
a_w1 = [(81.3,41.7),(83.1,41.7),(83.1,39.9),(81.3,39.9)]
a_w2 = [(85.4,37.9),(86.8,37.9),(86.8,36.2),(85.4,36.2)]
a_d1 = [(84,43),(85,42.5),(84.6,41.8),(83.6,42.2)]
a_d2 = [(88,36.5),(89.2,36.2),(88.8,35.2),(87.8,35.6)]
panel_a = [(5,a_05),(10,a_10),(15,a_15),(20,a_20),(25,a_rim),(25,a_25),(30,a_30),(35,a_35),(30,a_tongue),(40,a_40),(40,a_40t),(30,a_30s),(45,a_45),(25,a_p1),(25,a_p2),(25,a_p3),(-1,a_w1),(-1,a_w2),(15,a_d1),(15,a_d2),(50,a_50),(55,a_55),(65,a_65),(65,a_65b),
           (35,ac_35),(40,ac_40),(45,ac_45),(50,ac_50),(55,ac_55),(65,ac_65),(70,ac_70)]
a_line_x = [54.6, 109.5]
a_line_y = [49.3, 49.3]

# ---------- panel (c) ----------
c_05 = [(58,55.1),(59.1,58),(61.9,60.8),(63.2,62.8),(68.8,62.1),(72.4,62.8),(75.2,67.6),(78.9,69.9),(83.5,71.9),(88.1,75),(93.1,75.4),(98.2,75.9),(104.2,75.2),(109.7,70.7),(116.1,66.7),(121,65.4),(121,33),(115.2,33.3),(109.7,34.9),(106.2,36.7),(104.4,34.9),(103.1,32.1),(93.1,31.6),(89.6,33.4),(86.9,36.7),(85,39.5),(79.8,40.8),(79.8,45),(77.5,47.9),(74,44.2),(72.6,41.7),(70.8,42.2),(69,45),(67.2,47.9),(66,49.3),(60,50.2),(58.2,53)]
c_10 = [(58.6,55.3),(59.6,57.6),(62.3,60.3),(65.5,61.9),(69.2,61.7),(72.9,62.8),(75.7,66.7),(79.3,69.5),(83.9,71.3),(88.1,74.1),(93.1,72.5),(98.2,75),(104.2,74.5),(109.7,69.9),(116.1,66.3),(121,64.9),(121,34.2),(115.2,34.3),(109.7,36),(106.5,37.4),(104.6,35.5),(103.3,32.5),(93.1,32.1),(89.9,34),(87.2,37.4),(85.3,40.1),(80.1,41.3),(80.1,45.4),(77.5,48.4),(74.3,44.7),(72.9,42.2),(71.1,42.8),(69.4,45.6),(67.6,48.4),(66,49.8),(60.2,50.5),(58.6,53)]
c_15 = [(58.9,55.7),(60,57.6),(62.8,59.7),(66,61.2),(69.7,61.2),(73.4,62.8),(76.1,65.8),(79.8,69),(84.9,70.4),(88.5,72.7),(93.1,71.8),(97.7,73.1),(104.2,74.1),(109.7,69),(116.1,65.3),(121,63.1),(121,36),(114.3,36),(109.7,38.3),(106.9,39.2),(105.1,36),(103.4,32.8),(93.1,32.5),(90.2,34.4),(87.4,37.8),(85.6,40.6),(80.3,41.7),(80.3,45.9),(77.5,48.8),(74.6,45.2),(73.1,42.8),(71.2,43.3),(69.7,46.1),(67.8,48.8),(66,50.2),(60.5,50.9),(58.9,53.2)]
c_20 = [(59.1,56.2),(60.5,57.1),(63.2,59.1),(66.5,60.3),(70.1,60.3),(73.8,62.1),(76.6,64.9),(80.3,67.6),(85.8,69.9),(91.3,71.8),(97.7,71.8),(104.2,72.2),(110.6,68.1),(121,62.1),(121,37.4),(115.2,37.8),(108.8,38.8),(107.4,39.7),(105.4,36.5),(103.7,33.3),(93.1,33),(90.4,34.8),(87.6,38.3),(85.8,41),(80.5,42.2),(80.5,46.5),(77.5,49),(74.7,45.6),(73.4,43.3),(71.5,43.8),(70,46.5),(68.1,49.3),(66,50.5),(60.8,51.1),(59.3,53.4)]
c_rim = [(102.8,31.4),(93.1,31),(89.5,32.8),(86.7,36),(84.9,38.8),(79.3,40.1),(79.3,44.7),(77.5,47.5),(73.8,43.8),(72.4,41),(70.6,41.5),(68.8,44.3),(66.9,47.5),(66,48.8),(60,49.8),(57.7,52.5),(58.5,54),(60.5,52.2),(70,49.5),(78,48),(81,43.5),(88,39.5),(93.5,35),(102,33)]
c_25 = [(59.6,56.2),(61.4,57.1),(64.2,58.5),(67.4,59.4),(71.5,59.7),(74.7,61.7),(77.5,64),(81.2,66.7),(88.5,69.5),(98.7,70.8),(107,69.5),(114.3,65.3),(121,60.3),(121,39.5),(114.3,40.1),(108.8,39.7),(106,37.8),(104.2,33.7),(101.9,31.4),(98.7,31.4),(93.1,33.4),(90.6,35.3),(87.8,38.8),(86,41.5),(80.7,42.7),(80.7,47),(77.5,49.3),(74.9,46.1),(73.6,43.8),(71.8,44.2),(70.3,47),(68.3,49.6),(66,50.9),(61.1,51.4),(59.6,53.6)]
c_30 = [(78.4,63),(82.1,65.3),(88.5,67.6),(98.7,68.6),(107,67.2),(114.3,62.6),(121,57.1),(121,42),(114.3,41.5),(108.8,42),(106,39.7),(103.7,35.5),(101.4,31.6),(95.9,31.4),(93.1,34.2),(89,38.8),(86.2,42.4),(81.2,47.9),(72.9,49.3),(71.5,54.8),(74.3,57.1),(76.6,60.3)]
c_35 = [(65.7,49.8),(66.9,52.5),(72,54.3),(77,57.1),(78.4,58),(78,63),(84.9,65.8),(90.4,66.7),(97.7,65.8),(104.2,61.2),(108.8,56.2),(113.4,54.3),(115.2,52),(114.3,48.8),(109.7,46.1),(105.1,42.4),(102.3,36),(100.5,32.3),(98.2,31),(93.6,31),(93.1,34.2),(89.5,38.3),(84.4,45.2),(81.6,47.5),(77.5,48.4),(72.9,48.8),(68.3,48.4)]
c_tongue = [(91.8,52),(93.6,53.9),(96.4,51.6),(99.6,47.5),(106,42.9),(108.8,42.4),(105.1,39.7),(102.3,35.1),(101,39.7),(98.7,43.8),(95,47.5),(92.7,49.8)]
c_40 = [(72.4,54.3),(78.4,56.2),(81.6,58),(85.8,62.6),(89.5,63),(95,61.2),(99.6,58),(105.1,53.4),(107.9,51.6),(104.2,51.1),(98.7,54.8),(95.9,56.6),(90.4,57.5),(86.2,57.1),(91.3,51.6),(92.7,47.9),(96.4,42.9),(98.2,37.8),(96.4,34.2),(92.7,37.4),(89.5,41.5),(84.4,46.5),(81.6,48.4),(68.3,48.8)]
c_40t = [(78.4,60.8),(81.2,60.3),(81,59.4),(78.6,59.7)]
c_30s = [(82.1,60.3),(83,60.3),(82.6,59.4)]
c_35d1 = [(100.8,52.9),(102.3,51.6),(101.7,51)]
c_35d2 = [(114.8,46.4),(116,46.4),(115.5,45.5)]
c_10d = [(54.2,53.6),(55,53.6),(55,52.9),(54.2,52.9)]
c_white = [(66,64.4),(68.8,64.4),(68.8,62.4),(66,62.4)]
c_45 = [(69.2,51.6),(73.4,53.9),(79.3,55.7),(83,55.3),(85.8,51.6),(88.5,47),(90.8,42.4),(89.5,40.6),(86.7,42.9),(83.5,47),(68.3,49.3)]
c_p1 = [(79.8,43.8),(83.5,44.4),(86.2,40.6),(85.3,39.7),(80.7,40.6)]
c_p2 = [(86.7,38.8),(89,38.8),(92.7,35.1),(90.4,33.3),(87.6,36)]
c_d1 = [(83,42.6),(84,42.2),(83.6,41.3),(82.6,41.8)]
c_d2 = [(88.8,36.8),(89.8,36.3),(89.4,35.5),(88.4,35.9)]
c_50 = [(66.5,50.2),(67.8,52),(73.8,52.5),(78.4,53.6),(81.6,53.9),(82.8,49.8),(84.1,45.6),(82.6,47),(80.7,48.8),(76.6,50.2),(73.4,49.8),(72.7,47.5),(72.9,44.7),(71.5,43.8),(69.7,45.2),(67.8,47.5)]
c_g = [(74,48.8),(77.5,49.6),(80.3,48.4),(77.5,47.5),(74.3,47.5)]
c_55 = [(67.4,49.3),(68.8,51.6),(74.7,52),(77.5,51.6),(74.7,50.7),(72.4,49.8),(72.4,45.6),(71,44.4),(69.7,45.6),(67.8,47.9)]
c_65 = [(70.3,47.9),(72.4,47.5),(72.4,45.6),(71.2,44.7),(70.3,46.1)]
c_65b = [(67.4,49.3),(69,49.3),(68.8,48.2)]
cc_35 = [(57.7,53),(58.2,56.2),(61.9,58),(67.4,58.7),(69,57.8),(67.4,55.7),(64.2,54.3),(61.4,51.1),(59.6,50.2)]
cc_40 = [(57.4,53.4),(58.4,56.2),(61.9,57.5),(66.9,58.2),(67.8,57.5),(66,56.2),(63.7,54.8),(61.1,51.6),(59.1,51.1)]
cc_45 = [(57.3,53.9),(58.6,56.2),(61.9,57.3),(66,57.5),(65.1,56.2),(62.3,54.8),(60.8,52),(58.6,52)]
cc_50 = [(57.3,54.3),(59.1,56.2),(61.9,56.9),(65.1,57.1),(63.7,55.7),(61.4,54.3),(60.2,52),(58.4,52.3)]
cc_55 = [(57.7,54.3),(59.6,55.7),(61.4,55.7),(61.4,54.8),(60.2,52.5),(58.6,52.7)]
cc_65 = [(58.4,54.3),(59.8,55.3),(61.4,55.1),(60.5,53.4),(59.1,52.5)]
cc_70 = [(59.1,54.2),(60.2,54.8),(60.8,54.2),(59.8,53.2)]
panel_c = [(5,c_05),(10,c_10),(15,c_15),(20,c_20),(25,c_rim),(25,c_25),(30,c_30),(35,c_35),(30,c_tongue),(40,c_40),(40,c_40t),(30,c_30s),(35,c_35d1),(35,c_35d2),(10,c_10d),(-1,c_white),(45,c_45),(25,c_p1),(25,c_p2),(15,c_d1),(15,c_d2),(50,c_50),(25,c_g),(55,c_55),(65,c_65),(65,c_65b),
           (35,cc_35),(40,cc_40),(45,cc_45),(50,cc_50),(55,cc_55),(65,cc_65),(70,cc_70)]
c_line_x = [54.7, 109.7]
c_line_y = [48.3, 48.3]

INK = "#231815"
FONT = "'Liberation Sans', Arial, sans-serif"
LETTER_FONT = "'Noto Sans', sans-serif"
PAD = "\u00a0"  # the non-breaking spaces nudge an axis label along its axis


def draw(p, polys):
    for level, pts in polys:
        line = "#DD5560" if level >= 55 else COLOR[level]
        p.patch([q[0] for q in pts], [q[1] for q in pts], fill_color=COLOR[level], line_color=line, line_width=0.6)


def style(p, xticks, yticks, x_major, x_minor, y_major, y_minor, y_fmt, ytick_size, xlab, ylab, ylab_size, xs, xl, ys, yl):
    p.outline_line_color = INK
    p.outline_line_width = 2
    p.xgrid.visible = False
    p.ygrid.visible = False
    p.border_fill_color = None
    for ax in (p.xaxis[0], p.yaxis[0]):
        ax.axis_line_color = INK
        ax.axis_line_width = 2
        ax.major_tick_line_color = INK
        ax.minor_tick_line_color = INK
        ax.major_tick_line_width = 2
        ax.minor_tick_line_width = 2
        ax.major_label_text_font = FONT
        ax.major_label_text_color = INK
        ax.axis_label_text_font = FONT
        ax.axis_label_text_font_style = "normal"
        ax.axis_label_text_color = INK
        ax.axis_label_text_line_height = 0.8
    xa, ya = p.xaxis[0], p.yaxis[0]
    xa.axis_label, ya.axis_label = xlab, ylab
    xa.axis_label_text_font_size = "27px"
    ya.axis_label_text_font_size = ylab_size
    xa.ticker = FixedTicker(ticks=xticks, minor_ticks=x_minor)
    ya.ticker = FixedTicker(ticks=yticks, minor_ticks=y_minor)
    xa.major_label_text_font_size = "24px"
    ya.major_label_text_font_size = ytick_size
    if y_fmt:
        ya.formatter = NumeralTickFormatter(format=y_fmt)
    xa.major_tick_in, xa.major_tick_out = x_major
    ya.major_tick_in, ya.major_tick_out = y_major
    xa.minor_tick_in, xa.minor_tick_out = 0, 7
    ya.minor_tick_in, ya.minor_tick_out = 0, 7
    xa.major_label_standoff, xa.axis_label_standoff = xs, xl
    ya.major_label_standoff, ya.axis_label_standoff = ys, yl


def header(width, height, margin, y_main, y_head, y_sub, items):
    # a blank strip across the page that carries the panel titles
    p = figure(width=width, height=height, min_border=0, x_range=Range1d(0, width), y_range=Range1d(0, height),
               output_backend="svg", toolbar_location=None, x_axis_location=None, y_axis_location=None, margin=margin)
    p.outline_line_color = None
    p.grid.visible = False
    p.border_fill_color = None
    p.background_fill_color = None
    for x0, head, body_x, body in items:
        for txt, x, y, size in (("Z", x0, y_main, 30), ("H", x0 + 19, y_sub, 19), (head, x0 + 41, y_head, 29), (body, body_x, y_main, 27)):
            p.add_layout(Label(x=x, y=y, text=txt, text_font=FONT, text_font_size=f"{size}px", text_color=INK,
                               text_baseline="middle", text_align="left"))
    return p


def letter(p, txt, x, y):
    p.add_layout(Label(x=x, y=y, x_units="screen", y_units="screen", text=txt, text_font=LETTER_FONT,
                       text_font_size="37px", text_color=INK, text_baseline="middle", text_align="center"))


def ab(p, lx, ly, x_a, x_b, y_lab):
    p.line(lx, ly, line_color="#111111", line_width=3)
    for txt, x in (("A", x_a), ("B", x_b)):
        p.add_layout(Label(x=x, y=y_lab, text=txt, text_font=FONT, text_font_size="29px", text_color=INK,
                           text_baseline="middle", text_align="center"))


def fig(width, height, left, right, top, bottom, xr, yr, margin=(0, 0, 0, 0)):
    return figure(width=width, height=height, min_border_left=left, min_border_right=right, min_border_top=top,
                  min_border_bottom=bottom, x_range=Range1d(*xr), y_range=Range1d(*yr), output_backend="svg",
                  toolbar_location=None, margin=margin)


XY_TICKS = [0, 20, 40, 60, 80, 100, 120]
XY_MINOR = list(range(0, 125, 5))
XZ_TICKS = [55, 65, 75, 85, 95, 105]
XZ_MINOR = list(range(55, 109, 2))
Z_TICKS = [0, 2, 4, 6, 8, 10, 12, 14, 16, 18, 20]

head1 = header(1212, 50, (0, 0, -10, 0), 25, 24, 16, [(97, "(Old)", 222, "Min = 0.07, Max = 72.25 dBZ"), (660, "(Old)", 784, "Min = 0.03, Max = 72.09 dBZ")])
head2 = header(1124, 42, (-4, 0, -6, 0), 22, 21, 12, [(103, "(New)", 233, "Min = 0.05, Max = 73.66 dBZ"), (653, "(New)", 783, "Min = 0.03,Max = 73.44 dBZ")])

a = fig(560, 538, 102, 15, 5, 90, (0, 122.2), (0, 121.9))
draw(a, panel_a)
ab(a, a_line_x, a_line_y, 53.8, 112.8, 43.2)
style(a, XY_TICKS, XY_TICKS, (0, 12), XY_MINOR, (0, 12), XY_MINOR, None, "24px", "X (km)", "Y (km)" + PAD * 2, "27px", 13, 1, 10, -2)
letter(a, "(a)", 48, 401)

b = fig(572, 541, 112, 12, 5, 90, (55, 108.7), (0, 21.8), margin=(0, 0, -3, -8))
draw(b, panel_b)
style(b, XZ_TICKS, Z_TICKS, (4, 8), XZ_MINOR, (3, 5), [], "0.0", "22px", PAD * 7 + "X (km)", "Height (km)", "29px", 17, -2, 9, 15)
letter(b, "(b)", 52, 404)

c = fig(567, 526, 109, 15, 4, 79, (0, 122.2), (0, 122.2), margin=(0, 0, -3, 0))
draw(c, panel_c)
ab(c, c_line_x, c_line_y, 53.8, 112.8, 42.5)
style(c, XY_TICKS, XY_TICKS, (0, 12), XY_MINOR, (0, 12), XY_MINOR, None, "24px", "X (km)", PAD * 6 + "Y (km)", "27px", 13, 0, 10, -2)
letter(c, "(c)", 45, 400)

d = fig(560, 529, 98, 16, 4, 79, (55, 108.5), (0, 21.8), margin=(0, 0, -6, -3))
draw(d, panel_d)
style(d, XZ_TICKS, Z_TICKS, (4, 8), XZ_MINOR, (3, 5), [], "0.0", "22px", PAD * 7 + "X (km)", "Height (km)", "29px", 17, -2, 9, 2)
letter(d, "(d)", 49, 403)

# colour bar: 15 boxes from 0 to 75 dBZ
cb = figure(width=88, height=542, min_border_left=8, min_border_right=44, min_border_top=2, min_border_bottom=2,
            x_range=Range1d(0, 1), y_range=Range1d(0, 75), output_backend="svg", toolbar_location=None,
            x_axis_location=None, y_axis_location="right")
cb.quad(left=0, right=1, bottom=LEVELS, top=[v + 5 for v in LEVELS], fill_color=[COLOR[v] for v in LEVELS],
        line_color=INK, line_width=2)
cb.grid.visible = False
cb.outline_line_color = INK
cb.outline_line_width = 2
cb.border_fill_color = None
ya = cb.yaxis[0]
ya.ticker = FixedTicker(ticks=CBAR_TICKS)
ya.axis_line_color = None
ya.major_tick_line_color = None
ya.minor_tick_line_color = None
ya.major_tick_in = 0
ya.major_tick_out = 0
ya.major_label_standoff = 8
ya.major_label_text_font = FONT
ya.major_label_text_font_size = "26px"
ya.major_label_text_color = INK

left = column(row(a, b, spacing=0), head2, row(c, d, spacing=0), spacing=0)
right = column(Spacer(width=88, height=250), cb, spacing=0)
page = column(head1, row(left, right, spacing=0), spacing=0)
open("out.html", "w").write(file_html(page, INLINE))
